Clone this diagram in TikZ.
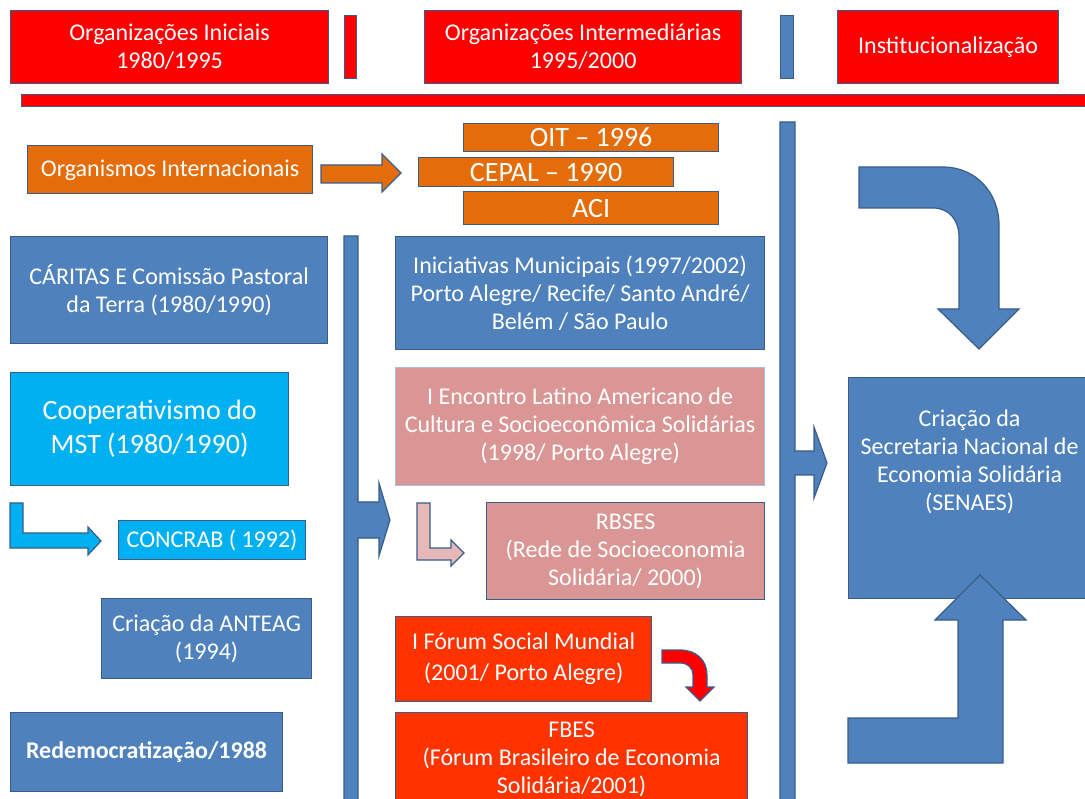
\documentclass[tikz,border=0pt]{standalone}
\usepackage{fontspec}
\setmainfont{Carlito}
\definecolor{bblue}{HTML}{4F81BD}
\definecolor{bord}{HTML}{385D8A}
\definecolor{hred}{HTML}{FF0000}
\definecolor{orng}{HTML}{E46C0A}
\definecolor{cyanb}{HTML}{00B0F0}
\definecolor{pinkb}{HTML}{D99694}
\definecolor{pinkl}{HTML}{E6B9B8}
\definecolor{fsmred}{HTML}{FF3300}
\definecolor{lightbord}{HTML}{A7BFDE}
\tikzset{
  box/.style={draw=bord, line width=1.2pt, anchor=north west, text=white, align=center,
    inner sep=2pt, font=\fontsize{24}{28}\selectfont},
  bigtext/.style={font=\fontsize{28}{34}\selectfont},
  bar/.style={draw=bord, line width=1.2pt, anchor=north west, inner sep=0pt},
  blockarrow/.style={draw=bord, line width=1.2pt, line join=miter},
}
\begin{document}
\begin{tikzpicture}[x=1pt,y=-1pt]
\useasboundingbox (0,0) rectangle (1085,799);

% header
\node[box, fill=hred, minimum width=318pt, minimum height=73pt] (h1) at (10,10) {Organizações Iniciais\\1980/1995};
\node[bar, fill=hred, minimum width=12pt, minimum height=63pt] (hb1) at (344,15) {};
\node[box, fill=hred, minimum width=317pt, minimum height=73pt] (h2) at (424,10) {Organizações Intermediárias\\1995/2000};
\node[bar, fill=bblue, minimum width=13pt, minimum height=63pt] (hb2) at (780,15) {};
\node[box, fill=hred, minimum width=221pt, minimum height=73pt] (h3) at (837,10) {Institucionalização};
\node[bar, fill=hred, minimum width=1075pt, minimum height=12pt] (hline) at (21,94) {};

% international organisations
\node[box, fill=orng, minimum width=285pt, minimum height=48pt, text depth=2pt] (orgint) at (27,145) {Organismos Internacionais};
\node[box, bigtext, fill=orng, minimum width=255pt, minimum height=28pt, inner sep=0pt] (oit) at (463,123) {OIT – 1996};
\node[box, bigtext, fill=orng, minimum width=255pt, minimum height=29pt, inner sep=0pt] (cepal) at (418,157) {CEPAL – 1990};
\node[box, bigtext, fill=orng, minimum width=255pt, minimum height=33pt, inner sep=0pt] (aci) at (463,191) {ACI};
\draw[blockarrow, fill=orng] (321,165) -- (382,165) -- (382,154) -- (401,173) -- (382,192) -- (382,183) -- (321,183) -- cycle;

% left column
\node[box, fill=bblue, minimum width=317pt, minimum height=107pt] (caritas) at (10,236) {CÁRITAS E Comissão Pastoral\\da Terra (1980/1990)};
\node[box, bigtext, fill=cyanb, minimum width=278pt, minimum height=113pt] (mst) at (10,372) {Cooperativismo do\\MST (1980/1990)};
\node[box, fill=cyanb, minimum width=187pt, minimum height=39pt] (concrab) at (118,520) {CONCRAB ( 1992)};
\node[box, fill=bblue, minimum width=210pt, minimum height=80pt] (anteag) at (101,598) {Criação da ANTEAG\\(1994)};
\node[box, fill=bblue, minimum width=272pt, minimum height=79pt, font=\fontsize{24}{28}\selectfont\bfseries] (redem) at (10,712) {Redemocratização/1988};
\draw[blockarrow, fill=cyanb] (10,503) -- (23,503) -- (23,533) -- (88,533) -- (88,527) -- (101,541) -- (88,555) -- (88,548) -- (10,548) -- cycle;

% left vertical bar with arrow
\draw[blockarrow, fill=bblue] (344,236) -- (358,236) -- (358,502) -- (379,502) -- (379,483) -- (390,520) -- (379,556) -- (379,538) -- (358,538) -- (358,805) -- (344,805) -- cycle;

% middle column
\node[box, fill=bblue, minimum width=369pt, minimum height=113pt] (munic) at (395,236) {Iniciativas Municipais (1997/2002)\\Porto Alegre/ Recife/ Santo André/\\Belém / São Paulo};
\node[box, fill=pinkb, draw=lightbord, minimum width=369pt, minimum height=118pt] (encontro) at (395,367) {I Encontro Latino Americano de\\Cultura e Socioeconômica Solidárias\\(1998/ Porto Alegre)};
\node[box, fill=pinkb, minimum width=278pt, minimum height=97pt] (rbses) at (486,502) {RBSES\\(Rede de Socioeconomia\\Solidária/ 2000)};
\draw[blockarrow, fill=pinkl] (417,503) -- (430,503) -- (430,548) -- (451,548) -- (451,540) -- (464,553) -- (451,566) -- (451,560) -- (417,560) -- cycle;
\node[box, fill=fsmred, minimum width=256pt, minimum height=85pt, font=\fontsize{24}{31}\selectfont] (fsm) at (395,616) {I Fórum Social Mundial\\(2001/ Porto Alegre)};
\node[box, fill=fsmred, minimum width=352pt, minimum height=100pt, text depth=9pt] (fbes) at (395,712) {FBES\\(Fórum Brasileiro de Economia\\Solidária/2001)};
\draw[blockarrow, fill=hred] (662,650) -- (680,650) .. controls (696,650) and (707,660) .. (707,675) -- (707,687) -- (714,687) -- (700,701) -- (686,687) -- (693,687) -- (693,675) .. controls (693,668) and (688,663) .. (680,663) -- (662,663) -- cycle;

% right vertical bar with arrow
\draw[blockarrow, fill=bblue] (780,122) -- (795,122) -- (795,451) -- (814,451) -- (814,427) -- (827,463) -- (814,498) -- (814,475) -- (795,475) -- (795,805) -- (780,805) -- cycle;

% right column
\node[box, fill=bblue, minimum width=242pt, minimum height=221pt, text depth=56pt] (senaes) at (848,377) {Criação da\\Secretaria Nacional de\\Economia Solidária\\(SENAES)};
\draw[blockarrow, fill=bblue] (859,167) -- (943,167) .. controls (975,167) and (999,192) .. (999,225) -- (999,309) -- (1019,309) -- (979,349) -- (938,309) -- (959,309) -- (959,237) .. controls (959,220) and (949,208) .. (933,208) -- (859,208) -- cycle;
\draw[blockarrow, fill=bblue] (848,718) -- (958,718) -- (958,620) -- (935,620) -- (980,575) -- (1026,620) -- (1003,620) -- (1003,763) -- (848,763) -- cycle;
\end{tikzpicture}
\end{document}
